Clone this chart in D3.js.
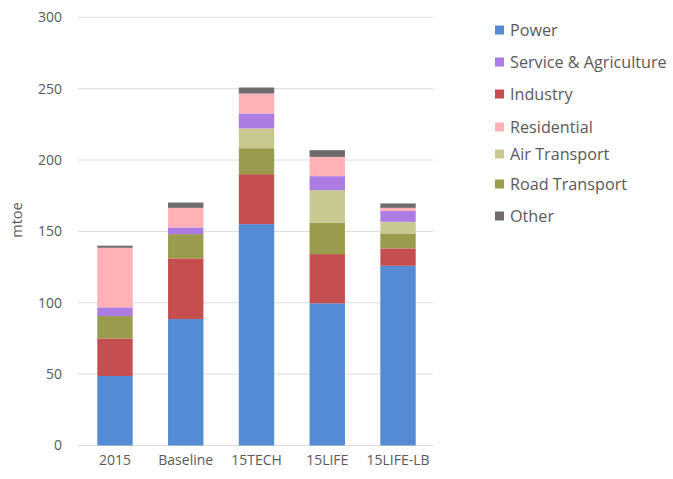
<!DOCTYPE html>
<html>
<head>
<meta charset="utf-8">
<script src="https://cdn.jsdelivr.net/npm/d3@7"></script>
<style>
  body { margin: 0; background: #fff; }
  svg { display: block; }
  text { font-family: "Open Sans", Lato, sans-serif; fill: #595959; }
</style>
</head>
<body>
<svg id="chart" width="673" height="479"></svg>
<script>
// Data
const categories = ["2015", "Baseline", "15TECH", "15LIFE", "15LIFE-LB"];
const stackOrder = ["Power", "Industry", "Road Transport", "Air Transport", "Service & Agriculture", "Residential", "Other"];
const legendOrder = ["Power", "Service & Agriculture", "Industry", "Residential", "Air Transport", "Road Transport", "Other"];
const power       = [48.7, 88.6, 155.1, 99.6, 125.9];
const industry    = [26.3, 42.5, 35.0, 34.5, 12.2];
const road        = [15.7, 17.0, 18.2, 21.9, 10.5];
const air         = [0.0, 0.0, 13.8, 22.9, 8.1];
const service     = [6.1, 4.7, 10.5, 9.8, 7.7];
const residential = [41.7, 13.7, 14.0, 13.5, 2.1];
const other       = [1.5, 3.7, 4.2, 4.7, 3.1];
const yTicks = [0, 50, 100, 150, 200, 250, 300];
const yLabel = "mtoe";

const seriesValues = {
  "Power": power, "Industry": industry, "Road Transport": road, "Air Transport": air,
  "Service & Agriculture": service, "Residential": residential, "Other": other
};
const colors = {
  "Power": "#558ad4", "Industry": "#c44f4e", "Road Transport": "#9b9b4e", "Air Transport": "#c9c890",
  "Service & Agriculture": "#ab7ce2", "Residential": "#ffb1b5", "Other": "#6f6b6d"
};

const rows = categories.map((c, i) => {
  const r = { cat: c };
  stackOrder.forEach(k => r[k] = seriesValues[k][i]);
  return r;
});

const svg = d3.select("#chart");
const x = d3.scaleBand().domain(categories).range([79.6, 433.4]).paddingInner(0.5).paddingOuter(0.25);
const y = d3.scaleLinear().domain([0, 300]).range([445.5, 17.3]);

// gridlines
svg.append("g").selectAll("line").data(yTicks).join("line")
  .attr("x1", 78).attr("x2", 433)
  .attr("y1", d => y(d)).attr("y2", d => y(d))
  .attr("stroke", "#dcdcdc").attr("stroke-width", 1);

// y tick labels
svg.append("g").selectAll("text").data(yTicks).join("text")
  .attr("x", 62).attr("y", d => y(d)).attr("dy", "0.35em")
  .attr("text-anchor", "end").attr("font-size", 14)
  .text(d => d);

// y axis label
svg.append("text")
  .attr("transform", "translate(22,220) rotate(-90)")
  .attr("text-anchor", "middle").attr("font-size", 14.5)
  .text(yLabel);

// stacked bars
const stacked = d3.stack().keys(stackOrder)(rows);
svg.append("g").selectAll("g").data(stacked).join("g")
  .attr("fill", d => colors[d.key])
  .selectAll("rect").data(d => d).join("rect")
  .attr("x", d => x(d.data.cat))
  .attr("width", x.bandwidth())
  .attr("y", d => y(d[1]))
  .attr("height", d => y(d[0]) - y(d[1]));

// x labels
svg.append("g").selectAll("text").data(categories).join("text")
  .attr("x", d => x(d) + x.bandwidth() / 2).attr("y", 460).attr("dy", "0.35em")
  .attr("text-anchor", "middle").attr("font-size", 14)
  .text(d => d);

// legend
const legendY = [30, 62, 94, 127, 154, 184, 216];
const lg = svg.append("g").selectAll("g").data(legendOrder).join("g")
  .attr("transform", (d, i) => `translate(495,${legendY[i]})`);
lg.append("rect").attr("x", 0).attr("y", -4.5).attr("width", 9).attr("height", 9)
  .attr("fill", d => colors[d]);
lg.append("text").attr("x", 15).attr("dy", "0.35em").attr("font-size", 16.2)
  .text(d => d);
</script>
</body>
</html>
